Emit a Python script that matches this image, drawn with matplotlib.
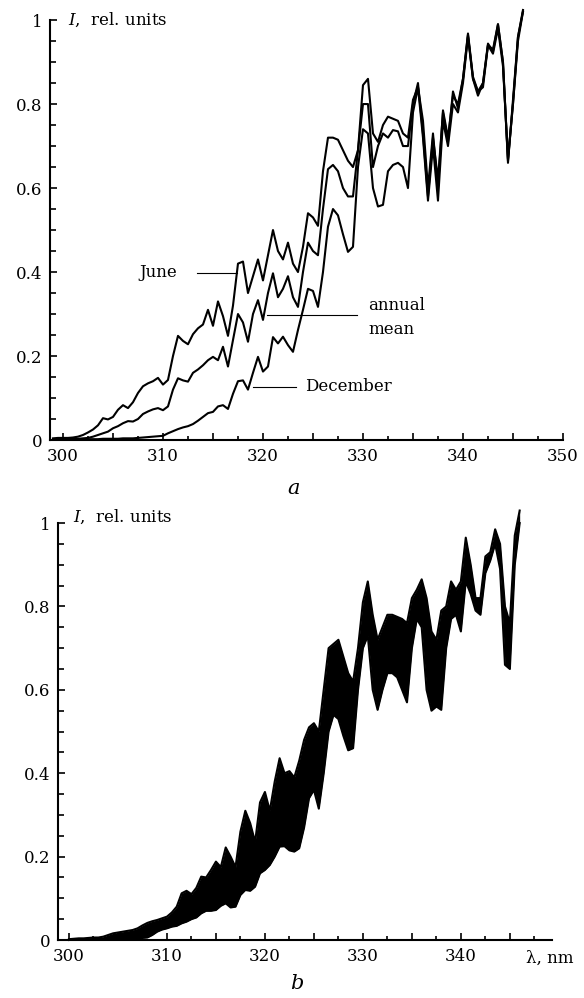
import numpy as np
import matplotlib.pyplot as plt
from matplotlib.ticker import MultipleLocator, FuncFormatter

plt.rcParams["font.family"] = "DejaVu Serif"
plt.rcParams["mathtext.fontset"] = "dejavuserif"

# panel a: three spectra on a 0.5 nm grid, 299.0 ... 346.0 nm
wl_a = np.arange(299.0, 346.01, 0.5)
june = [
    0.004, 0.005, 0.005, 0.005, 0.006, 0.008, 0.012, 0.018, 0.025, 0.035,
    0.052, 0.049, 0.055, 0.072, 0.083, 0.076, 0.090, 0.112, 0.128, 0.135,
    0.140, 0.148, 0.132, 0.143, 0.200, 0.248, 0.236, 0.228, 0.252, 0.266,
    0.275, 0.310, 0.272, 0.330, 0.295, 0.248, 0.320, 0.420, 0.425, 0.350,
    0.390, 0.430, 0.380, 0.440, 0.500, 0.450, 0.430, 0.470, 0.420, 0.400,
    0.460, 0.540, 0.530, 0.510, 0.640, 0.720, 0.720, 0.715, 0.690, 0.665,
    0.650, 0.690, 0.845, 0.860, 0.730, 0.710, 0.750, 0.770, 0.765, 0.760,
    0.730, 0.720, 0.810, 0.840, 0.760, 0.600, 0.730, 0.600, 0.785, 0.720,
    0.820, 0.800, 0.860, 0.968, 0.865, 0.830, 0.850, 0.944, 0.925, 0.990,
    0.900, 0.660, 0.810, 0.960, 1.024,
]
annual_mean = [
    0.002, 0.002, 0.002, 0.002, 0.003, 0.003, 0.004, 0.005, 0.008, 0.012,
    0.016, 0.020, 0.028, 0.033, 0.040, 0.045, 0.044, 0.050, 0.062, 0.068,
    0.073, 0.076, 0.071, 0.080, 0.120, 0.147, 0.142, 0.139, 0.160, 0.168,
    0.178, 0.190, 0.198, 0.190, 0.222, 0.175, 0.238, 0.300, 0.280, 0.234,
    0.300, 0.333, 0.286, 0.350, 0.397, 0.340, 0.360, 0.390, 0.340, 0.317,
    0.400, 0.470, 0.450, 0.440, 0.550, 0.645, 0.655, 0.640, 0.600, 0.580,
    0.580, 0.690, 0.800, 0.800, 0.650, 0.700, 0.730, 0.720, 0.738, 0.735,
    0.700, 0.700, 0.800, 0.850, 0.730, 0.580, 0.720, 0.620, 0.780, 0.710,
    0.830, 0.790, 0.860, 0.965, 0.860, 0.830, 0.840, 0.940, 0.930, 0.990,
    0.900, 0.665, 0.800, 0.960, 1.020,
]
december = [
    0.001, 0.001, 0.001, 0.001, 0.001, 0.002, 0.002, 0.002, 0.002, 0.002,
    0.003, 0.003, 0.003, 0.003, 0.004, 0.004, 0.004, 0.005, 0.006, 0.007,
    0.008, 0.009, 0.010, 0.016, 0.021, 0.026, 0.030, 0.033, 0.038, 0.046,
    0.055, 0.064, 0.067, 0.080, 0.083, 0.074, 0.110, 0.140, 0.142, 0.120,
    0.160, 0.198, 0.163, 0.175, 0.245, 0.230, 0.246, 0.226, 0.210, 0.262,
    0.310, 0.360, 0.355, 0.317, 0.400, 0.508, 0.550, 0.535, 0.490, 0.448,
    0.460, 0.650, 0.740, 0.730, 0.600, 0.556, 0.560, 0.640, 0.655, 0.660,
    0.650, 0.600, 0.780, 0.840, 0.720, 0.570, 0.700, 0.570, 0.760, 0.700,
    0.800, 0.780, 0.850, 0.960, 0.860, 0.820, 0.850, 0.940, 0.920, 0.980,
    0.890, 0.670, 0.800, 0.950, 1.020,
]

# panel b: envelope of the monthly spectra, 300.0 ... 346.0 nm
wl_b = np.arange(300.0, 346.01, 0.5)
band_upper = [
    0.002, 0.003, 0.004, 0.004, 0.005, 0.006, 0.006, 0.008, 0.012, 0.016,
    0.018, 0.020, 0.022, 0.024, 0.028, 0.035, 0.041, 0.045, 0.048, 0.052,
    0.056, 0.066, 0.080, 0.112, 0.118, 0.110, 0.125, 0.152, 0.150, 0.168,
    0.188, 0.175, 0.222, 0.200, 0.175, 0.260, 0.310, 0.280, 0.235, 0.330,
    0.355, 0.310, 0.380, 0.436, 0.400, 0.405, 0.390, 0.430, 0.480, 0.510,
    0.520, 0.500, 0.600, 0.700, 0.710, 0.720, 0.680, 0.640, 0.620, 0.700,
    0.810, 0.860, 0.780, 0.720, 0.750, 0.780, 0.780, 0.775, 0.770, 0.760,
    0.820, 0.840, 0.865, 0.820, 0.740, 0.720, 0.790, 0.800, 0.860, 0.840,
    0.860, 0.965, 0.900, 0.820, 0.820, 0.920, 0.930, 0.985, 0.950, 0.800,
    0.760, 0.970, 1.030,
]
band_lower = [
    0.000, 0.001, 0.001, 0.001, 0.001, 0.002, 0.002, 0.002, 0.002, 0.002,
    0.003, 0.003, 0.004, 0.004, 0.004, 0.005, 0.006, 0.012, 0.020, 0.025,
    0.028, 0.032, 0.034, 0.040, 0.044, 0.050, 0.054, 0.064, 0.070, 0.070,
    0.072, 0.082, 0.088, 0.078, 0.080, 0.108, 0.120, 0.118, 0.128, 0.160,
    0.168, 0.180, 0.200, 0.224, 0.225, 0.215, 0.212, 0.220, 0.270, 0.340,
    0.360, 0.315, 0.400, 0.500, 0.540, 0.530, 0.490, 0.455, 0.460, 0.600,
    0.700, 0.730, 0.600, 0.552, 0.600, 0.640, 0.640, 0.630, 0.600, 0.570,
    0.700, 0.770, 0.750, 0.600, 0.550, 0.560, 0.552, 0.700, 0.770, 0.780,
    0.740, 0.860, 0.830, 0.790, 0.780, 0.880, 0.910, 0.950, 0.890, 0.660,
    0.650, 0.900, 1.000,
]

y_ticks = [0, 0.2, 0.4, 0.6, 0.8, 1.0]
y_tick_labels = ["0", "0.2", "0.4", "0.6", "0.8", "1"]


def style_axis(ax, xlim):
    ax.set_xlim(*xlim)
    ax.set_ylim(0, 1)
    for s in ("top", "right"):
        ax.spines[s].set_visible(False)
    for s in ("left", "bottom"):
        ax.spines[s].set_linewidth(1.5)
    ax.set_yticks(y_ticks)
    ax.set_yticklabels(y_tick_labels)
    ax.yaxis.set_minor_locator(MultipleLocator(0.05))
    ax.xaxis.set_major_locator(MultipleLocator(5))
    ax.xaxis.set_minor_locator(MultipleLocator(2.5))
    ax.xaxis.set_major_formatter(
        FuncFormatter(lambda v, p: f"{v:.0f}" if round(v) % 10 == 0 else ""))
    ax.tick_params(which="both", direction="in", width=1.2, labelsize=12)
    ax.tick_params(axis="y", which="major", length=5, pad=5.5)
    ax.tick_params(axis="y", which="minor", length=4)
    ax.tick_params(axis="x", which="major", length=5, pad=6)
    ax.tick_params(axis="x", which="minor", length=3)


fig = plt.figure(figsize=(5.84, 9.98), dpi=100)

# ---- panel a
ax_a = fig.add_axes([0.0856, 0.5591, 0.8784, 0.4208])
for series in (june, annual_mean, december):
    ax_a.plot(wl_a, series, color="black", linewidth=1.5, clip_on=False)
style_axis(ax_a, (298.7, 350.0))
ax_a.text(0.035, 1.0, r"$I$,  rel. units", transform=ax_a.transAxes,
          ha="left", va="center", fontsize=12)

# curve labels with leader lines
ax_a.plot([313.4, 317.4], [0.398, 0.398], color="black", linewidth=0.8)
ax_a.text(311.4, 0.398, "June", ha="right", va="center", fontsize=12)
ax_a.plot([320.4, 329.4], [0.298, 0.298], color="black", linewidth=0.8)
ax_a.text(330.5, 0.321, "annual", ha="left", va="center", fontsize=12)
ax_a.text(330.5, 0.262, "mean", ha="left", va="center", fontsize=12)
ax_a.plot([319.0, 323.3], [0.127, 0.127], color="black", linewidth=0.8)
ax_a.text(324.2, 0.127, "December", ha="left", va="center", fontsize=12)

fig.text(0.502, 0.511, "a", ha="center", va="center", fontsize=15,
         style="italic")

# ---- panel b
ax_b = fig.add_axes([0.0993, 0.0581, 0.8459, 0.4178])
ax_b.fill_between(wl_b, band_lower, band_upper, color="black", linewidth=0,
                  clip_on=False)
ax_b.plot(wl_b, band_upper, color="black", linewidth=1.5, clip_on=False)
ax_b.plot(wl_b, band_lower, color="black", linewidth=1.5, clip_on=False)
style_axis(ax_b, (298.88, 349.3))
ax_b.text(0.03, 1.015, r"$I$,  rel. units", transform=ax_b.transAxes,
          ha="left", va="center", fontsize=12)
fig.text(0.942, 0.040, "λ, nm", ha="center", va="center", fontsize=12)

fig.text(0.509, 0.015, "b", ha="center", va="center", fontsize=15,
         style="italic")

fig.savefig("out.png", dpi=100)
